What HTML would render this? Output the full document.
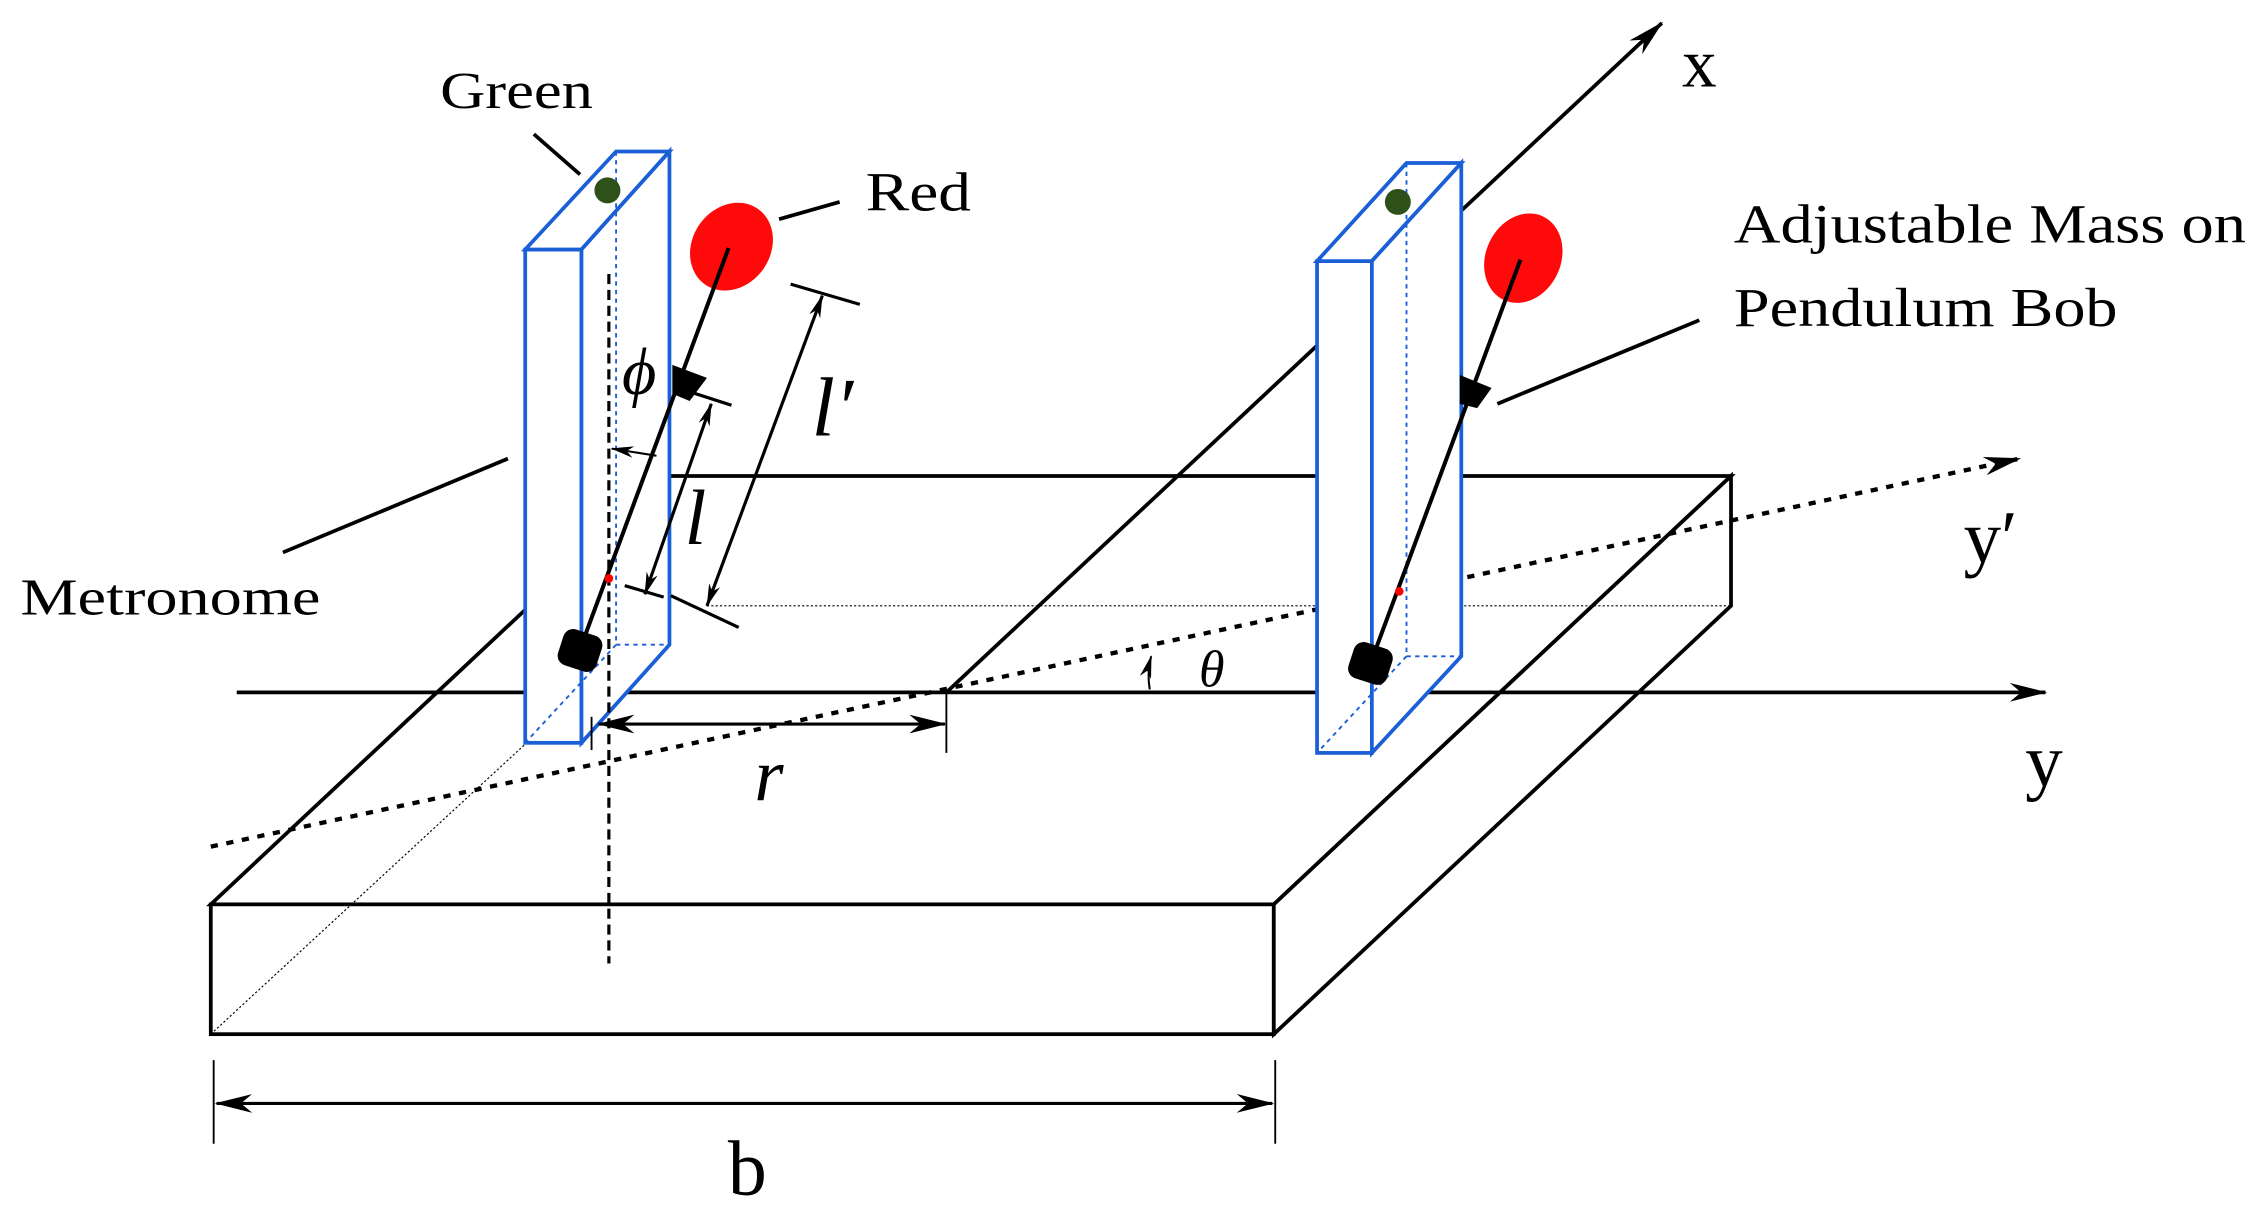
<!DOCTYPE html>
<html><head><style>html,body{margin:0;padding:0;background:#fff}svg{display:block}</style></head><body>
<svg width="2262" height="1226" viewBox="0 0 1568 850" xmlns="http://www.w3.org/2000/svg" font-family="'Liberation Serif', serif">
<defs>
<marker id="ah" viewBox="0 0 20 10" refX="19" refY="5" markerWidth="16" markerHeight="9" orient="auto-start-reverse" markerUnits="userSpaceOnUse"><path d="M0,0 L20,5 L0,10 L6,5 Z" fill="#000"/></marker>
<marker id="sa" viewBox="0 0 20 10" refX="19" refY="5" markerWidth="26" markerHeight="13" orient="auto-start-reverse" markerUnits="userSpaceOnUse"><path d="M0,0 L20,5 L0,10 L6,5 Z" fill="#000"/></marker>
</defs>
<g stroke="#000" fill="none" stroke-width="2.6">
<polygon points="146,627 883,627 1200,330 463,330" fill="#fff"/>
<rect x="146" y="627" width="737" height="90" fill="#fff"/>
<polygon points="883,627 1200,330 1200,420 883,717" fill="#fff"/>
<line x1="146" y1="717" x2="365" y2="515" stroke-width="0.8" stroke-dasharray="1.5,1.5"/>
<line x1="490" y1="420" x2="1200" y2="420" stroke-width="0.8" stroke-dasharray="1.5,1.5"/>
<line x1="656" y1="480" x2="1152" y2="16" marker-end="url(#sa)"/>
<line x1="164" y1="480" x2="1418" y2="480" marker-end="url(#sa)"/>
<line x1="146" y1="587" x2="1400" y2="318" stroke-width="3" stroke-dasharray="5,6" marker-end="url(#sa)"/>
</g>
<g stroke="#1a5fd6" stroke-width="2.6" fill="#fff">
<rect x="364" y="173" width="39" height="342"/>
<polygon points="364,173 427,105 464,105 403,173"/>
<polygon points="403,173 464,105 464,447 403,515"/>
<g fill="none" stroke-width="1.3" stroke-dasharray="3,3"><line x1="427" y1="105" x2="427" y2="447"/><line x1="427" y1="447" x2="464" y2="447"/><line x1="427" y1="447" x2="364" y2="515"/></g>
</g>
<g stroke="#000" stroke-width="2.2" stroke-dasharray="7,4"><line x1="422" y1="190" x2="422" y2="668"/></g>
<g stroke="#1a5fd6" stroke-width="2.6" fill="#fff">
<rect x="913" y="181" width="38" height="341"/>
<polygon points="913,181 975,113 1013,113 951,181"/>
<polygon points="951,181 1013,113 1013,455 951,522"/>
<g fill="none" stroke-width="1.3" stroke-dasharray="3,3"><line x1="975" y1="113" x2="975" y2="455"/><line x1="975" y1="455" x2="1013" y2="455"/><line x1="975" y1="455" x2="913" y2="522"/></g>
</g>
<circle cx="421" cy="132" r="9" fill="#2d5119"/>
<circle cx="969" cy="140" r="9" fill="#2d5119"/>
<ellipse cx="507" cy="171" rx="27" ry="32" transform="rotate(35 507 171)" fill="#ff0a0a"/>
<ellipse cx="1056" cy="179" rx="26" ry="32" transform="rotate(25 1056 179)" fill="#ff0a0a"/>
<g stroke="#000" stroke-width="2.8">
<line x1="505" y1="172" x2="402" y2="450"/>
<line x1="1054" y1="180" x2="950" y2="460"/>
</g>
<polygon points="466,253 490,262 478,278 466,273" fill="#000"/>
<polygon points="1012,260 1034,269 1024,283 1012,280" fill="#000"/>
<rect x="388" y="438" width="28" height="26" rx="7" transform="rotate(18 402 451)" fill="#000"/>
<rect x="936" y="447" width="28" height="26" rx="7" transform="rotate(18 950 460)" fill="#000"/>
<circle cx="422" cy="401" r="3" fill="#f00"/>
<circle cx="970" cy="410" r="3" fill="#f00"/>
<g stroke="#000" stroke-width="2.2" fill="none">
<line x1="493" y1="280" x2="447" y2="412" marker-start="url(#ah)" marker-end="url(#ah)"/>
<line x1="473" y1="270" x2="507" y2="281"/>
<line x1="433" y1="406" x2="460" y2="414"/>
<line x1="570" y1="205" x2="490" y2="420" marker-start="url(#ah)" marker-end="url(#ah)"/>
<line x1="548" y1="197" x2="596" y2="211"/>
<line x1="465" y1="413" x2="512" y2="435"/>
<line x1="455" y1="316" x2="424" y2="311" stroke-width="1.4" marker-end="url(#ah)"/>
<line x1="415" y1="502" x2="655" y2="502" marker-start="url(#sa)" marker-end="url(#sa)"/>
<line x1="410" y1="497" x2="410" y2="520" stroke-width="1.3"/>
<line x1="656" y1="480" x2="656" y2="522" stroke-width="1.3"/>
<line x1="150" y1="765" x2="882" y2="765" marker-start="url(#sa)" marker-end="url(#sa)"/>
<line x1="148" y1="735" x2="148" y2="793" stroke-width="1.3"/>
<line x1="884" y1="735" x2="884" y2="793" stroke-width="1.3"/>
<path d="M797,478 Q795,466 798,455" stroke-width="1.4" marker-end="url(#ah)"/>
<line x1="370" y1="93" x2="402" y2="121" stroke-width="2.6"/>
<line x1="540" y1="152" x2="582" y2="140" stroke-width="2.6"/>
<line x1="196" y1="383" x2="352" y2="318" stroke-width="2.6"/>
<line x1="1178" y1="222" x2="1038" y2="280" stroke-width="2.6"/>
</g>
<g fill="#000">
<text x="305" y="75" font-size="36" textLength="106" lengthAdjust="spacingAndGlyphs">Green</text>
<text x="600" y="146" font-size="38" textLength="73" lengthAdjust="spacingAndGlyphs">Red</text>
<text x="14" y="426" font-size="36" textLength="208" lengthAdjust="spacingAndGlyphs">Metronome</text>
<text x="1202" y="168" font-size="38" textLength="355" lengthAdjust="spacingAndGlyphs">Adjustable Mass on</text>
<text x="1202" y="226" font-size="38" textLength="266" lengthAdjust="spacingAndGlyphs">Pendulum Bob</text>
<text x="1178" y="60" font-size="48" text-anchor="middle">x</text>
<text x="1417" y="545" font-size="52" text-anchor="middle">y</text>
<text x="1380" y="390" font-size="52" text-anchor="middle">y′</text>
<text x="577" y="302" font-size="58" font-style="italic" text-anchor="middle">l′</text>
<text x="482" y="377" font-size="54" font-style="italic" text-anchor="middle">l</text>
<text x="443" y="273" font-size="46" font-style="italic" text-anchor="middle">ϕ</text>
<text x="840" y="476" font-size="36" font-style="italic" text-anchor="middle">θ</text>
<text x="533" y="555" font-size="52" font-style="italic" text-anchor="middle">r</text>
<text x="518" y="828" font-size="54" text-anchor="middle">b</text>
</g>
</svg>
</body></html>
